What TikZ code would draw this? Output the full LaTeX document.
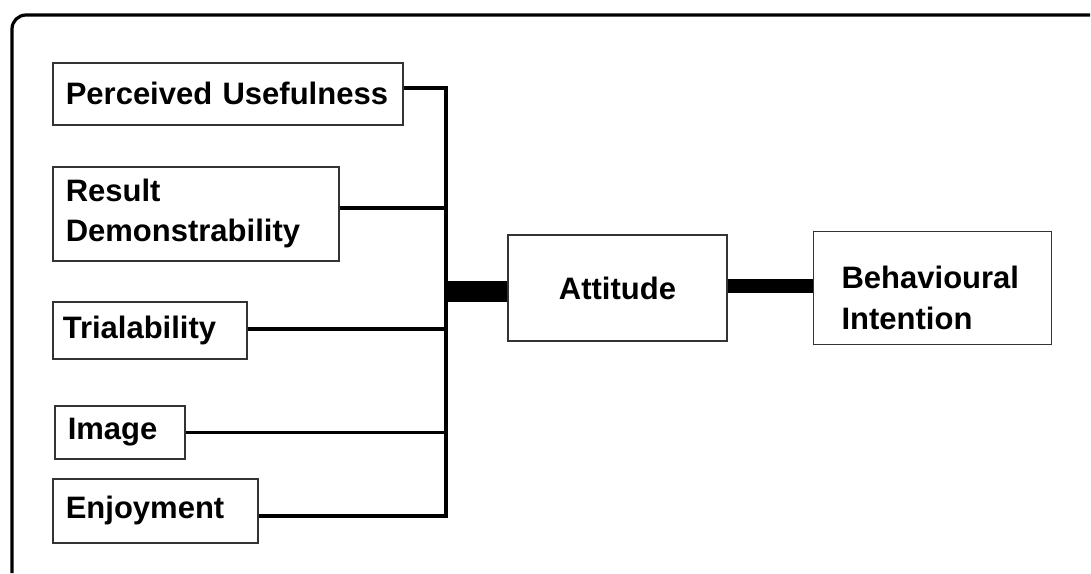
\documentclass[tikz,border=0pt]{standalone}
\usepackage{fontspec}
\setmainfont{Liberation Sans}
\usetikzlibrary{positioning}

\begin{document}
\begin{tikzpicture}[x=0.5pt,y=-0.5pt,
      factor/.style={draw=black!80,line width=0.8pt,anchor=north west,align=left,inner xsep=6.5pt,inner ysep=0pt,font=\fontsize{15.5}{20}\selectfont\bfseries},
      core/.style={draw=black!80,line width=0.8pt,inner sep=0pt,font=\fontsize{15.5}{20.5}\selectfont\bfseries},
      link/.style={line width=1.7pt},
      bar/.style={line width=10.5pt}]

  \useasboundingbox (0,0) rectangle (1091,573);

  % open frame
  \coordinate (frametop) at (1090,15);
  \coordinate (framebot) at (12,573);
  \draw[line width=1.6pt,rounded corners=7pt] (framebot) |- (frametop);

  % factors
  \node[factor,text width=162pt,minimum height=31pt] (useful) at (52,62) {Perceived Usefulness};
  \node[factor,text width=130pt,minimum height=47pt] (result) at (52,166) {Result\\Demonstrability};
  \node[factor,inner xsep=5pt,text width=87pt,minimum height=28.5pt] (trial) at (52,301) {Trialability};
  \node[factor,text width=52pt,minimum height=26.5pt] (image) at (54,405) {Image};
  \node[factor,text width=89.5pt,minimum height=32pt] (enjoy) at (52,478) {Enjoyment};

  \node[core,minimum width=109.5pt,minimum height=53pt] (attitude) at (617.5,288) {Attitude};
  \node[core,inner xsep=14pt,text width=91pt,align=left,minimum height=56.5pt,right=42.5pt of attitude] (intention) {\rule{0pt}{21pt}Behavioural\\Intention};

  % bus
  \coordinate (bustop) at (446,88);
  \coordinate (busbot) at (446,516);
  \draw[link] (bustop -| useful.east) -- (bustop) -- (busbot) -- (busbot -| enjoy.east);
  \draw[link] ([yshift=3pt]result.east) coordinate (r) -- (r -| bustop);
  \draw[link] ([yshift=0.75pt]trial.east) coordinate (t) -- (t -| bustop);
  \draw[link] (image.east) -- (image.east -| bustop);

  \draw[bar] ([yshift=-1.5pt]attitude.west) coordinate (a) -- (a -| bustop);
  \draw[bar,line width=7pt] ([yshift=1pt]attitude.east) coordinate (b) -- (b -| intention.west);

\end{tikzpicture}
\end{document}
